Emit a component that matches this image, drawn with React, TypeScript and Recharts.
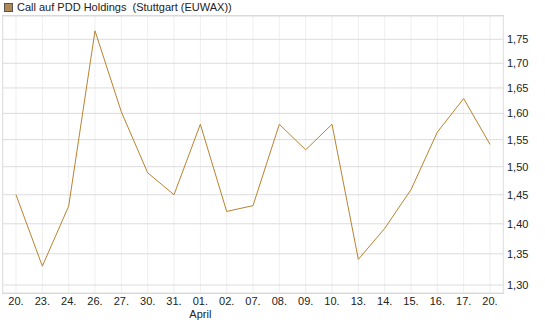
import React from 'react';
import {
  LineChart,
  Line,
  XAxis,
  YAxis,
  CartesianGrid,
} from 'recharts';

// trading days (dd.mm) and closing prices
const dates = [
  '20.03', '23.03', '24.03', '26.03', '27.03', '30.03', '31.03',
  '01.04', '02.04', '07.04', '08.04', '09.04', '10.04', '13.04',
  '14.04', '15.04', '16.04', '17.04', '20.04',
];
const prices = [
  1.45, 1.33, 1.43, 1.768, 1.603, 1.489, 1.45,
  1.579, 1.421, 1.431, 1.579, 1.531, 1.579, 1.341,
  1.392, 1.459, 1.564, 1.629, 1.541,
];
const yTicks = [1.3, 1.35, 1.4, 1.45, 1.5, 1.55, 1.6, 1.65, 1.7, 1.75];
const monthNames: Record<string, string> = { '04': 'April' };

const seriesName = 'Call auf PDD Holdings  (Stuttgart (EUWAX))';
const lineColor = '#b8832f';
const font = '"Liberation Sans", Arial, sans-serif';

const data = dates.map((d, i) => ({ date: d, price: prices[i] }));

const DateTick = ({ x, y, payload }: any) => {
  const [day, month] = String(payload.value).split('.');
  const showMonth = day === '01' && monthNames[month];
  return (
    <g transform={`translate(${x},${y})`}>
      <text x={0} y={4} textAnchor="middle" fontSize={11} fill="#222" fontFamily={font}>
        {day}.
      </text>
      {showMonth && (
        <text x={0} y={17} textAnchor="middle" fontSize={11} fill="#222" fontFamily={font}>
          {monthNames[month]}
        </text>
      )}
    </g>
  );
};

export default function App() {
  return (
    <div style={{ position: 'absolute', left: 0, top: 0, width: 545, height: 327, background: '#fff', fontFamily: font }}>
      {/* plot frame */}
      <div
        style={{
          position: 'absolute',
          left: 2,
          top: 15,
          width: 500,
          height: 277,
          border: '1px solid #d6d6d6',
          boxSizing: 'content-box',
        }}
      />
      <div style={{ position: 'absolute', left: 0, top: 0 }}>
        <LineChart width={545} height={327} data={data} margin={{ top: 16, right: 0, bottom: 0, left: 3 }}>
          <CartesianGrid horizontal={false} stroke="#efefef" />
          <CartesianGrid vertical={false} stroke="#dcdcdc" />
          <XAxis
            dataKey="date"
            interval={0}
            height={34}
            padding={{ left: 13, right: 13 }}
            axisLine={false}
            tickLine={false}
            tick={<DateTick />}
          />
          <YAxis
            orientation="right"
            scale="log"
            type="number"
            domain={[1.2875, 1.8]}
            allowDataOverflow
            ticks={yTicks}
            width={42}
            axisLine={false}
            tickLine={false}
            tickSize={2}
            tickMargin={2}
            tickFormatter={(v: number) => v.toFixed(2).replace('.', ',')}
            tick={{ fontSize: 11, fill: '#222', fontFamily: font }}
          />
          <Line
            type="linear"
            dataKey="price"
            stroke={lineColor}
            strokeWidth={1}
            dot={false}
            activeDot={false}
            isAnimationActive={false}
          />
        </LineChart>
      </div>
      {/* legend */}
      <div style={{ position: 'absolute', left: 4, top: 1, display: 'flex', alignItems: 'center', fontSize: 11, color: '#222', whiteSpace: 'pre' }}>
        <span style={{ display: 'inline-block', width: 7, height: 7, background: '#b08a55', border: '1px solid #555', marginRight: 4 }} />
        <span>{seriesName}</span>
      </div>
    </div>
  );
}
